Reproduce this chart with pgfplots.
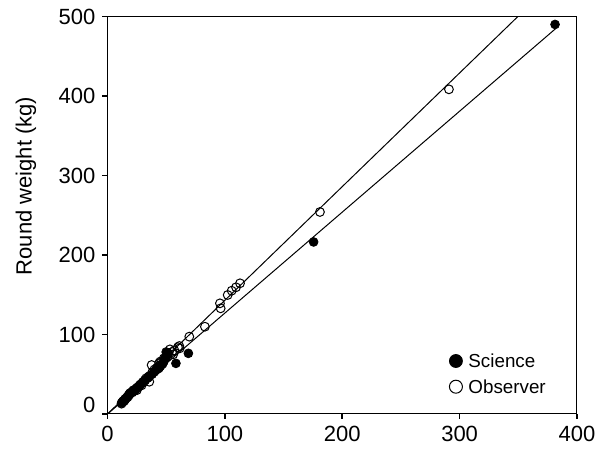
\documentclass[border=0pt]{standalone}
\usepackage{fontspec}
\setmainfont{Liberation Sans}
\usepackage{pgfplots}
\pgfplotsset{compat=1.18}
\begin{document}
\begin{tikzpicture}
\begin{axis}[
  scale only axis,
  width=234.75pt, height=198.75pt,
  xmin=0, xmax=400, ymin=0, ymax=500,
  xtick={0,100,200,300,400},
  ytick={0,100,200,300,400,500},
  yticklabels={\raisebox{4.5pt}[\height][\depth]{0},100,200,300,400,500},
  tick pos=left,
  tick align=outside,
  major tick length=2.5pt,
  tick style={line width=0.8pt, black},
  axis line style={line width=0.5pt},
  /pgf/number format/assume math mode=true,
  ticklabel style={font=\fontsize{11}{13}\selectfont},
  ylabel={Round weight (kg)},
  every axis y label/.style={at={(axis description cs:-0.1736,0.5736)}, rotate=90, anchor=center, font=\fontsize{11}{13}\selectfont},
  clip=true,
  legend style={draw=none, fill=none, inner sep=0pt, outer sep=0pt,
    at={(axis description cs:0.7283,0.101)}, anchor=west,
    font=\fontsize{9.4}{11}\selectfont,
    nodes={text height=6.6pt, text depth=0pt, inner sep=3pt},
    row sep=0.25pt,
    cells={anchor=west}},
  legend image code/.code={\draw[mark repeat=2,mark phase=2,#1] plot coordinates {(0pt,0pt)(5pt,0pt)(12pt,0pt)};},
]
% fitted lines
\addplot[black, line width=0.5pt, forget plot] coordinates {(0,0) (360,514.8)};
\addplot[black, line width=0.5pt, forget plot] coordinates {(0,0) (382,485)};

% Science (filled)
\addplot[only marks, mark=*, mark size=2.2pt, draw=black, fill=black,
  legend image post style={mark size=3.25pt}] coordinates {
(12,14) (13,16) (14,17) (15,19) (16,20) (17,22) (18,24) (19,25) (20,27) (21,28)
(22,30) (23,29) (24,31) (25,33) (26,34) (27,35) (28,37) (30,39) (31,41) (32,42)
(34,45) (35,46) (36,48) (38,50) (40,53) (41,55) (42,56) (44,58) (45,60) (46,62)
(47,63) (48,66) (49,70) (50,72) (51,75) (50,78) (52,76) (58.3,63.7) (68.9,76.3)
(175.6,216.4) (381.3,490)
};
\addlegendentry{Science}

% Observer (open)
\addplot[only marks, mark=o, mark size=2.2pt, draw=black, line width=0.5pt,
  legend image post style={mark size=3.25pt}] coordinates {
(12,13) (14,16) (15,18) (17,21) (18,23) (19,26) (21,27) (22,29) (24,31) (25,30)
(27,35) (28,37) (29,36) (30,40) (32,43) (33,45) (35.6,40.6) (35,47) (37.6,61.6) (38,52)
(40,56) (42,58) (43,57) (44,64) (45,66) (46,65) (48,70) (50,73) (51,72) (53.2,81.3)
(55,78) (56,75) (57,80) (60,84) (61.2,85.5) (61.5,82.6) (69.7,97.3) (83,109.8)
(95.8,139.2) (96.4,132.9) (102.4,149.7) (105.8,155.1) (109.5,159.4) (112.9,164.4)
(181,254.1) (290.9,408.4)
};
\addlegendentry{Observer}
\end{axis}
\path ([xshift=-53.75pt,yshift=-17.5pt]current axis.south west) rectangle ++(305.5pt,224.5pt);
\end{tikzpicture}
\end{document}
